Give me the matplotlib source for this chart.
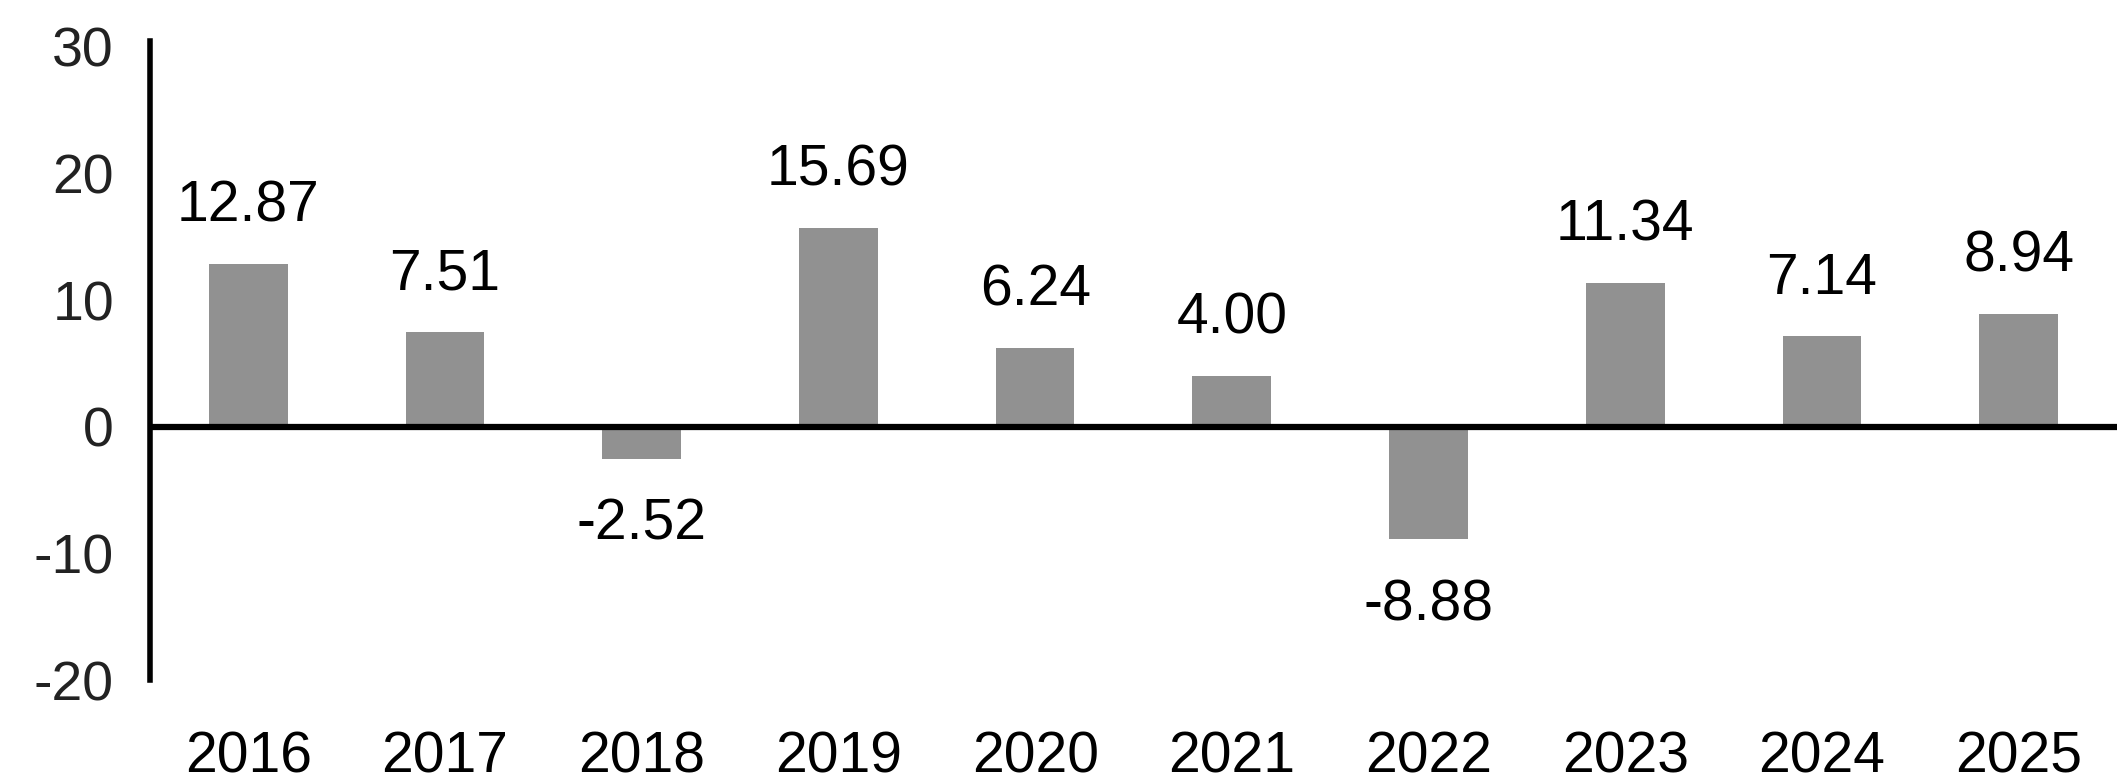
import matplotlib
matplotlib.use("Agg")
import matplotlib.pyplot as plt

plt.rcParams['font.family'] = ['Liberation Sans', 'DejaVu Sans']

# data
years = ['2016', '2017', '2018', '2019', '2020', '2021', '2022', '2023', '2024', '2025']
values = [12.87, 7.51, -2.52, 15.69, 6.24, 4.00, -8.88, 11.34, 7.14, 8.94]
y_ticks = [-20, -10, 0, 10, 20, 30]

fig = plt.figure(figsize=(21.25, 7.83), dpi=100)
ax = fig.add_axes([0.0706, 0.1315, 0.9256, 0.8161])

x = list(range(len(years)))
ax.bar(x, values, width=0.4, color='#919191', zorder=2)

# zero line
ax.axhline(0, color='black', lw=4.5, zorder=3)

# value labels
for xi, v in zip(x, values):
    if v >= 0:
        ax.annotate(f'{v:.2f}', (xi, v), xytext=(0, 22), textcoords='offset points',
                    ha='center', va='bottom', fontsize=41)
    else:
        ax.annotate(f'{v:.2f}', (xi, v), xytext=(0, -28), textcoords='offset points',
                    ha='center', va='top', fontsize=41)

ax.set_xlim(-0.5, len(years) - 0.5)
ax.set_ylim(-20, 30.47)
ax.set_xticks(x)
ax.set_xticklabels(years, fontsize=41)
ax.set_yticks(y_ticks)
ax.set_yticklabels([str(t) for t in y_ticks], fontsize=40, color='#222222')
ax.tick_params(axis='x', length=0, pad=36)
ax.tick_params(axis='y', length=0, pad=26)

for s in ['top', 'right', 'bottom']:
    ax.spines[s].set_visible(False)
ax.spines['left'].set_linewidth(4)
ax.spines['left'].set_color('black')

fig.savefig('out.png', dpi=100)
